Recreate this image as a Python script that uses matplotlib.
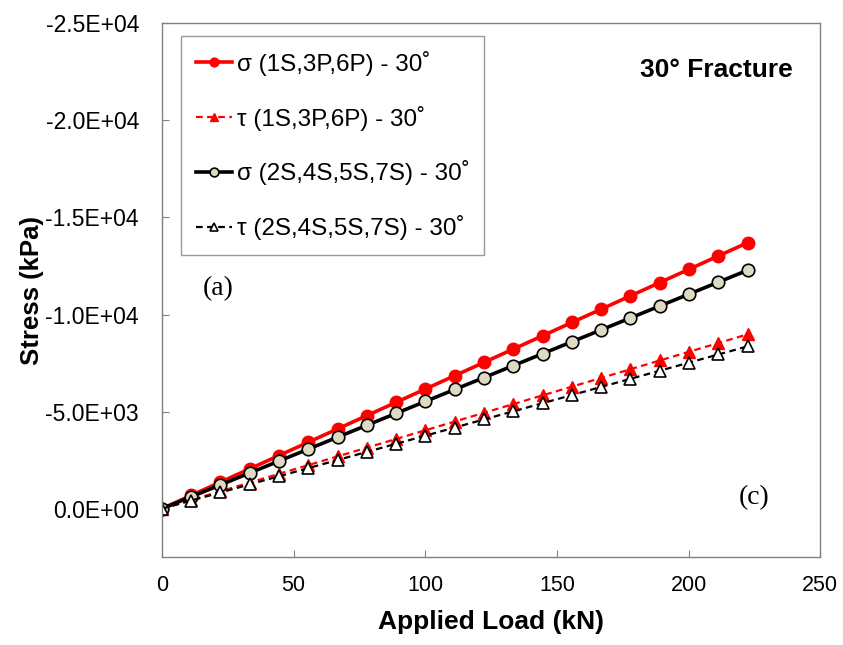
import matplotlib
matplotlib.use("Agg")
import matplotlib.pyplot as plt
from matplotlib.ticker import FuncFormatter, MultipleLocator

plt.rcParams['font.family'] = ['Liberation Sans', 'DejaVu Sans']

# Applied load steps (kN)
load = [0.0, 11.12, 22.24, 33.36, 44.48, 55.60, 66.72, 77.84, 88.96, 100.08,
        111.20, 122.32, 133.45, 144.57, 155.69, 166.81, 177.93, 189.05,
        200.17, 211.29, 222.41]

# Normal and shear stress on the 30° fracture (kPa)
sigma_p = [0, -685, -1370, -2055, -2740, -3425, -4110, -4795, -5480, -6165,
           -6850, -7535, -8220, -8905, -9590, -10275, -10960, -11645,
           -12330, -13015, -13700]
tau_p = [0, -449, -898, -1347, -1796, -2245, -2694, -3143, -3592, -4041,
         -4490, -4939, -5388, -5837, -6286, -6735, -7184, -7633,
         -8082, -8531, -8980]
sigma_s = [0, -614, -1228, -1842, -2456, -3070, -3684, -4298, -4912, -5526,
           -6140, -6754, -7368, -7982, -8596, -9210, -9824, -10438,
           -11052, -11666, -12280]
tau_s = [0, -418, -836, -1254, -1672, -2090, -2508, -2926, -3344, -3762,
         -4180, -4598, -5016, -5434, -5852, -6270, -6688, -7106,
         -7524, -7942, -8360]

labels = ["σ (1S,3P,6P) - 30˚", "τ (1S,3P,6P) - 30˚",
          "σ (2S,4S,5S,7S) - 30˚", "τ (2S,4S,5S,7S) - 30˚"]

fig = plt.figure(figsize=(8.43, 6.45), dpi=100)
ax = fig.add_axes([0.192, 0.136, 0.781, 0.828])

ax.plot(load, sigma_p, color='#ff0000', lw=2.6, marker='o', ms=9,
        mfc='#ff0000', mec='#ff0000', label=labels[0])
ax.plot(load, tau_p, color='#ff0000', lw=1.6, ls=(0, (3, 2)), marker='^', ms=9,
        mfc='#ff0000', mec='#ff0000', label=labels[1])
ax.plot(load, sigma_s, color='black', lw=2.6, marker='o', ms=9,
        mfc='#ddd9c3', mec='black', mew=1.2, label=labels[2])
ax.plot(load, tau_s, color='black', lw=1.6, ls=(0, (3, 2)), marker='^', ms=9,
        mfc='white', mec='black', mew=1.2, label=labels[3])

ax.set_xlim(0, 250)
ax.set_ylim(2500, -25000)
ax.xaxis.set_major_locator(MultipleLocator(50))
ax.set_yticks([0, -5000, -10000, -15000, -20000, -25000])
ax.yaxis.set_major_formatter(FuncFormatter(lambda v, p: f"{v:.1E}"))

for s in ax.spines.values():
    s.set_color('#808080')
    s.set_linewidth(1.0)
ax.tick_params(direction='in', length=5, color='#808080', labelcolor='black')
ax.tick_params(axis='x', pad=13, labelsize=15.5)
ax.tick_params(axis='y', pad=16.5, labelsize=16.5)

ax.set_xlabel("Applied Load (kN)", fontsize=19, fontweight='bold', labelpad=10)
ax.set_ylabel("Stress (kPa)", fontsize=18.5, fontweight='bold', labelpad=1)

leg = ax.legend(loc='upper left', bbox_to_anchor=(0.029, 0.976), fontsize=17.5,
                frameon=True, fancybox=False, edgecolor='#808080',
                handlelength=1.5, handletextpad=0.2, labelspacing=1.23,
                borderpad=0.6, markerscale=0.7, borderaxespad=0)
leg.get_frame().set_linewidth(1.0)

ax.text(0.843, 0.913, "30° Fracture", transform=ax.transAxes, fontsize=19,
        fontweight='bold', ha='center', va='center')
ax.text(0.085, 0.504, "(a)", transform=ax.transAxes, fontsize=20,
        family='Liberation Serif', ha='center', va='center')
ax.text(0.9, 0.112, "(c)", transform=ax.transAxes, fontsize=20,
        family='Liberation Serif', ha='center', va='center')

fig.savefig("out.png", dpi=100)
